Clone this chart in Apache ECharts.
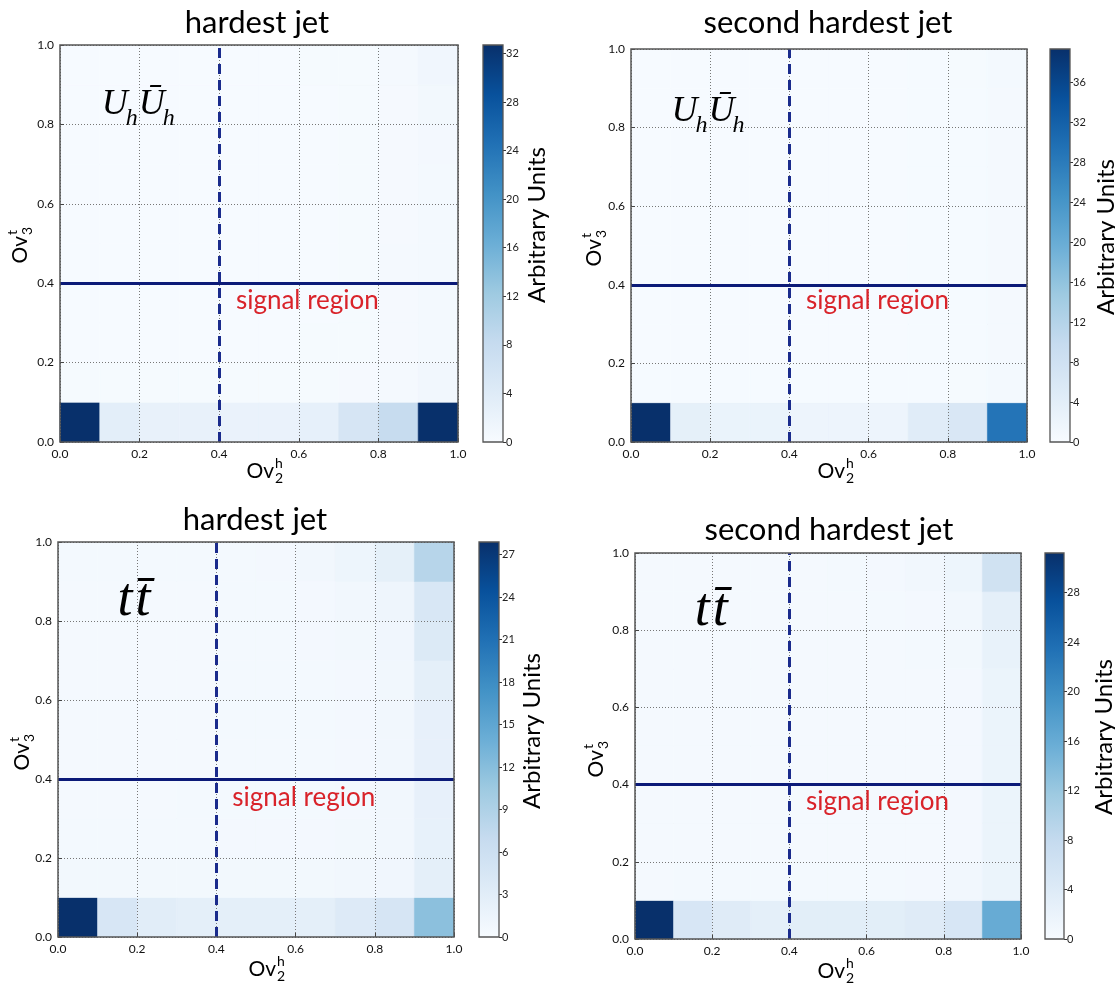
<!DOCTYPE html>
<html>
<head>
<meta charset="utf-8">
<script src="https://cdn.jsdelivr.net/npm/echarts@6/dist/echarts.min.js"></script>
<style>html,body{margin:0;padding:0;background:#fff}#c{width:1115px;height:983px}</style>
</head>
<body>
<div id="c"></div>
<script>
// ---------------- DATA ----------------
const binEdges = [0, 0.1, 0.2, 0.3, 0.4, 0.5, 0.6, 0.7, 0.8, 0.9, 1.0];
const axisTicks = [0, 0.2, 0.4, 0.6, 0.8, 1.0];
const panelTitles = ['hardest jet', 'second hardest jet', 'hardest jet', 'second hardest jet'];
const signalCutOv2 = 0.4;
const signalCutOv3 = 0.4;

// rows: index 0 = Ov3 bin [0,0.1) ... index 9 = [0.9,1.0]; columns = Ov2 bins
const uhHardest = [
  [32.7, 3.3, 2.5, 2.5, 2.2, 2.2, 2.8, 5.5, 8.0, 32.7],
  [0.3, 0.3, 0.3, 0.3, 0.3, 0.3, 0.3, 0.4, 0.5, 0.9],
  [0.2, 0.2, 0.2, 0.2, 0.2, 0.2, 0.3, 0.3, 0.4, 0.6],
  [0.2, 0.2, 0.2, 0.2, 0.2, 0.2, 0.2, 0.3, 0.4, 0.6],
  [0.2, 0.2, 0.2, 0.2, 0.2, 0.2, 0.2, 0.3, 0.5, 0.6],
  [0.2, 0.2, 0.2, 0.2, 0.2, 0.2, 0.2, 0.3, 0.4, 0.6],
  [0.2, 0.2, 0.2, 0.2, 0.2, 0.2, 0.2, 0.3, 0.4, 0.6],
  [0.2, 0.2, 0.2, 0.2, 0.2, 0.2, 0.2, 0.3, 0.4, 0.7],
  [0.2, 0.2, 0.2, 0.2, 0.2, 0.2, 0.2, 0.3, 0.4, 0.8],
  [0.2, 0.2, 0.2, 0.2, 0.2, 0.2, 0.3, 0.3, 0.5, 1.2]
];
const uhSecond = [
  [39.3, 3.5, 2.5, 2.5, 2.0, 2.0, 2.0, 4.5, 6.0, 29.0],
  [0.3, 0.3, 0.3, 0.3, 0.3, 0.3, 0.3, 0.3, 0.4, 0.7],
  [0.2, 0.2, 0.2, 0.2, 0.2, 0.2, 0.2, 0.3, 0.3, 0.6],
  [0.2, 0.2, 0.2, 0.2, 0.2, 0.2, 0.2, 0.3, 0.3, 0.6],
  [0.2, 0.2, 0.2, 0.2, 0.2, 0.2, 0.2, 0.3, 0.3, 0.6],
  [0.2, 0.2, 0.2, 0.2, 0.2, 0.2, 0.2, 0.3, 0.3, 0.6],
  [0.2, 0.2, 0.2, 0.2, 0.2, 0.2, 0.2, 0.3, 0.3, 0.6],
  [0.2, 0.2, 0.2, 0.2, 0.2, 0.2, 0.2, 0.3, 0.3, 0.6],
  [0.2, 0.2, 0.2, 0.2, 0.2, 0.2, 0.2, 0.3, 0.3, 0.6],
  [0.2, 0.2, 0.2, 0.2, 0.2, 0.2, 0.2, 0.3, 0.4, 0.7]
];
const ttHardest = [
  [27.9, 4.5, 3.0, 2.6, 2.7, 2.7, 2.7, 3.6, 4.7, 11.7],
  [0.7, 0.7, 0.7, 0.7, 0.7, 0.7, 0.7, 0.8, 1.0, 2.6],
  [0.5, 0.5, 0.5, 0.5, 0.6, 0.6, 0.6, 0.7, 0.8, 2.2],
  [0.4, 0.4, 0.4, 0.5, 0.5, 0.5, 0.5, 0.6, 0.8, 2.3],
  [0.4, 0.4, 0.4, 0.4, 0.5, 0.5, 0.5, 0.6, 0.8, 2.3],
  [0.4, 0.4, 0.4, 0.4, 0.5, 0.5, 0.5, 0.6, 0.8, 2.3],
  [0.4, 0.4, 0.4, 0.4, 0.5, 0.5, 0.5, 0.6, 0.8, 2.7],
  [0.4, 0.4, 0.4, 0.4, 0.5, 0.5, 0.6, 0.7, 1.0, 3.8],
  [0.4, 0.4, 0.4, 0.4, 0.5, 0.5, 0.6, 0.8, 1.3, 4.3],
  [0.5, 0.5, 0.5, 0.5, 0.5, 0.6, 0.9, 1.4, 2.5, 8.3]
];
const ttSecond = [
  [31.2, 5.0, 3.8, 3.0, 3.2, 3.2, 3.2, 3.8, 5.0, 16.0],
  [0.5, 0.6, 0.6, 0.6, 0.6, 0.6, 0.6, 0.7, 0.9, 1.8],
  [0.4, 0.4, 0.4, 0.4, 0.4, 0.4, 0.5, 0.5, 0.7, 1.8],
  [0.4, 0.4, 0.4, 0.4, 0.4, 0.4, 0.5, 0.5, 0.7, 1.8],
  [0.4, 0.4, 0.4, 0.4, 0.4, 0.4, 0.5, 0.5, 0.7, 1.8],
  [0.4, 0.4, 0.4, 0.4, 0.4, 0.4, 0.5, 0.5, 0.7, 1.8],
  [0.4, 0.4, 0.4, 0.4, 0.4, 0.4, 0.5, 0.5, 0.7, 1.8],
  [0.4, 0.4, 0.4, 0.4, 0.4, 0.5, 0.5, 0.6, 0.8, 2.3],
  [0.4, 0.4, 0.4, 0.4, 0.5, 0.5, 0.6, 0.7, 1.0, 3.0],
  [0.5, 0.5, 0.5, 0.5, 0.5, 0.6, 0.7, 0.9, 1.5, 6.2]
];
const colorbarMax = [32.7, 39.3, 27.9, 31.2];
const colorbarTicks1 = [0, 4, 8, 12, 16, 20, 24, 28, 32];
const colorbarTicks2 = [0, 4, 8, 12, 16, 20, 24, 28, 32, 36];
const colorbarTicks3 = [0, 3, 6, 9, 12, 15, 18, 21, 24, 27];
const colorbarTicks4 = [0, 4, 8, 12, 16, 20, 24, 28];

// ---------------- LAYOUT / STYLE ----------------
const BLUES = ['#f7fbff','#deebf7','#c6dbef','#9ecae1','#6baed6','#4292c6','#2171b5','#08519c','#08306b'];
const SANS = 'Lato';
const SERIF = 'Liberation Serif';
const plotBox = [
  {left: 60, top: 45, width: 398, height: 397},
  {left: 631, top: 49, width: 396, height: 393},
  {left: 58, top: 542, width: 396, height: 395},
  {left: 635, top: 553, width: 386, height: 386}
];
const cbBox = [
  {left: 483, top: 45, width: 20, height: 397},
  {left: 1050, top: 49, width: 20, height: 393},
  {left: 479, top: 542, width: 20, height: 395},
  {left: 1045, top: 553, width: 19, height: 386}
];
const titlePos = [[257, 7], [828, 7], [255, 504], [829, 514]];
const xNamePos = [[274, 471], [845, 471], [276, 969], [845, 971]];
const yNamePos = [[20, 236], [594, 239], [22, 743], [596, 750]];
const cbLabelPos = [[537, 225], [1106, 237], [532, 731], [1104, 737]];
const procAnchor = [[0.105, 0.825], [0.102, 0.815], [0.15, 0.81], [0.155, 0.81]];
const signalAnchor = [[0.442, 0.357], [0.442, 0.36], [0.44, 0.354], [0.443, 0.355]];
const procKind = ['U', 'U', 't', 't'];

const matrices = [uhHardest, uhSecond, ttHardest, ttSecond];
const cbTicks = [colorbarTicks1, colorbarTicks2, colorbarTicks3, colorbarTicks4];

function cells(mat) {
  const out = [];
  for (let j = 0; j < mat.length; j++)
    for (let i = 0; i < mat[j].length; i++)
      out.push([binEdges[i], binEdges[j], binEdges[i + 1], binEdges[j + 1], mat[j][i]]);
  return out;
}

const grid = [], xAxis = [], yAxis = [], series = [], visualMap = [], title = [];
for (let k = 0; k < 4; k++) {
  grid.push(Object.assign({show: true, borderColor: '#555', borderWidth: 1.5, backgroundColor: 'transparent', z: 6}, plotBox[k]));
  const axisCommon = {
    type: 'value', gridIndex: k, min: 0, max: 1, interval: 0.2, z: 4,
    axisLine: {show: false},
    axisTick: {show: true, inside: true, length: 4, lineStyle: {color: '#444'}},
    axisLabel: {fontFamily: SANS, fontSize: 12, color: '#111', margin: 6, formatter: v => v.toFixed(1)},
    splitLine: {show: true, lineStyle: {color: '#777', type: [1, 2], width: 1}}
  };
  xAxis.push(Object.assign({}, axisCommon));
  yAxis.push(Object.assign({}, axisCommon));
  series.push({
    type: 'custom', xAxisIndex: k, yAxisIndex: k, z: 2,
    data: cells(matrices[k]),
    encode: {x: [0, 2], y: [1, 3]},
    renderItem: function (params, api) {
      const p0 = api.coord([api.value(0), api.value(3)]);
      const p1 = api.coord([api.value(2), api.value(1)]);
      const c = api.visual('color');
      return {type: 'rect', shape: {x: p0[0], y: p0[1], width: p1[0] - p0[0], height: p1[1] - p0[1]},
              style: {fill: c, stroke: c, lineWidth: 0.6}};
    },
    markLine: {
      silent: true, symbol: ['none', 'none'], label: {show: false}, animation: false, z: 5,
      data: [
        {xAxis: signalCutOv2, lineStyle: {color: '#1a2b8c', width: 3, type: [10, 6]}},
        {yAxis: signalCutOv3, lineStyle: {color: '#0b1a78', width: 3, type: 'solid'}}
      ]
    }
  });
  visualMap.push({type: 'continuous', show: false, seriesIndex: k, dimension: 4, min: 0, max: colorbarMax[k], inRange: {color: BLUES}});
  title.push({text: panelTitles[k], left: titlePos[k][0], top: titlePos[k][1], textAlign: 'center', padding: 0,
              textStyle: {fontFamily: SANS, fontSize: 31, fontWeight: 'normal', color: '#000'}});
}
// colorbars
for (let k = 0; k < 4; k++) {
  const gi = 4 + k;
  grid.push(Object.assign({show: true, borderColor: '#555', borderWidth: 1.3, backgroundColor: 'transparent', z: 6}, cbBox[k]));
  xAxis.push({type: 'category', gridIndex: gi, data: ['cb'], show: false, boundaryGap: true});
  yAxis.push({
    type: 'value', gridIndex: gi, min: 0, max: colorbarMax[k], position: 'right',
    axisLine: {show: false},
    axisTick: {show: true, length: 3, customValues: cbTicks[k], lineStyle: {color: '#333'}},
    axisLabel: {show: true, fontFamily: SANS, fontSize: 11, color: '#222', margin: 3, customValues: cbTicks[k]},
    splitLine: {show: false}
  });
  series.push({
    type: 'bar', xAxisIndex: gi, yAxisIndex: gi, data: [colorbarMax[k]], barWidth: '100%', silent: true,
    itemStyle: {color: new echarts.graphic.LinearGradient(0, 1, 0, 0, BLUES.map((c, i) => ({offset: i / 8, color: c})))}
  });
}

const chart = echarts.init(document.getElementById('c'));
chart.setOption({animation: false, backgroundColor: '#fff', title, grid, xAxis, yAxis, series, visualMap});

function axisName(pos, rot, sup, sub) {
  return {
    type: 'group', x: pos[0], y: pos[1], rotation: rot, silent: true,
    children: [
      {type: 'text', z: 20, style: {text: 'Ov', x: 0, y: 0, align: 'right', verticalAlign: 'middle', fontFamily: SANS, fontSize: 21, fill: '#000'}},
      {type: 'text', z: 20, style: {text: sup, x: 1, y: -8, align: 'left', verticalAlign: 'middle', fontFamily: SANS, fontSize: 14, fill: '#000'}},
      {type: 'text', z: 20, style: {text: sub, x: 1, y: 7, align: 'left', verticalAlign: 'middle', fontFamily: SANS, fontSize: 14, fill: '#000'}}
    ]
  };
}

// measure text widths for manual math layout
const mctx = document.createElement('canvas').getContext('2d');
function textWidth(txt, size) {
  mctx.font = 'italic ' + size + 'px "' + SERIF + '"';
  return mctx.measureText(txt).width;
}
function mathText(base, tokens) {
  // tokens: [text, fontSize, dy, dx]
  const children = [];
  let x = 0;
  tokens.forEach(t => {
    x += t[3] || 0;
    children.push({type: 'text', z: 20, style: {text: t[0], x: x, y: t[2], align: 'left', verticalAlign: 'bottom',
      fontFamily: SERIF, fontStyle: 'italic', fontSize: t[1], fill: '#000'}});
    x += textWidth(t[0], t[1]);
  });
  return {type: 'group', x: base[0], y: base[1], silent: true, z: 20, children};
}

const graphic = [];
for (let k = 0; k < 4; k++) {
  graphic.push(axisName(xNamePos[k], 0, 'h', '2'));
  graphic.push(axisName(yNamePos[k], Math.PI / 2, 't', '3'));
  graphic.push({type: 'text', z: 20, x: cbLabelPos[k][0], y: cbLabelPos[k][1], rotation: Math.PI / 2, silent: true,
    style: {text: 'Arbitrary Units', align: 'center', verticalAlign: 'middle', fontFamily: SANS, fontSize: 24, fill: '#000'}});
  const pp = chart.convertToPixel({gridIndex: k}, procAnchor[k]);
  if (procKind[k] === 'U') {
    graphic.push(mathText(pp, [['U', 36, 8, 0], ['h', 24, 16, -2], ['\u016A', 36, 8, 1], ['h', 24, 16, -2]]));
  } else {
    graphic.push(mathText(pp, [['t', 54, 11, 0], ['t\u0304', 54, 11, 3]]));
  }
  const sp = chart.convertToPixel({gridIndex: k}, signalAnchor[k]);
  graphic.push({type: 'text', x: sp[0], y: sp[1], silent: true, z: 20,
    style: {text: 'signal region', align: 'left', verticalAlign: 'middle', fontFamily: SANS, fontSize: 26, fill: '#d9232a'}});
}
chart.setOption({graphic});
</script>
</body>
</html>
